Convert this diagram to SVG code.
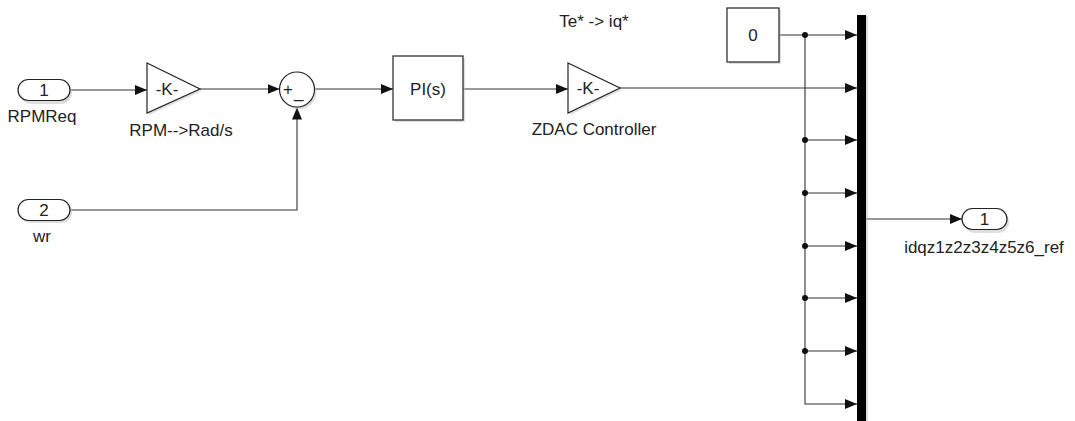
<svg xmlns="http://www.w3.org/2000/svg" width="1075" height="421" viewBox="0 0 1075 421">
<style>
  .blk { fill: #ffffff; stroke: #222; stroke-width: 1.2; }
  .shd { fill: #c8c8c8; stroke: none; opacity: 0.6; }
  .ln { fill: none; stroke: #333; stroke-width: 1.1; }
  .t { font-family: "Liberation Sans", Arial, sans-serif; font-size: 17px; fill: #222; }
  .dot { fill: #111; }
</style>
<defs>
  <marker id="arr" markerWidth="12" markerHeight="10" refX="12" refY="5" orient="auto" markerUnits="userSpaceOnUse">
    <path d="M0,0 L12,5 L0,10 z" fill="#111"/>
  </marker>
</defs>
<rect width="1075" height="421" fill="#ffffff"/>

<g id="connectors">
  <path class="ln" d="M70,90 H147" marker-end="url(#arr)"/>
  <path class="ln" d="M200,89 H279.5" marker-end="url(#arr)"/>
  <path class="ln" d="M70,210 H297 V107.5" marker-end="url(#arr)"/>
  <path class="ln" d="M314.5,89 H393" marker-end="url(#arr)"/>
  <path class="ln" d="M463,89 H568" marker-end="url(#arr)"/>
  <path class="ln" d="M620,88 H857" marker-end="url(#arr)"/>
  <path class="ln" d="M779,35 H857" marker-end="url(#arr)"/>
  <path class="ln" d="M805,35 V404 H857" marker-end="url(#arr)"/>
  <path class="ln" d="M805,140 H857" marker-end="url(#arr)"/>
  <path class="ln" d="M805,193 H857" marker-end="url(#arr)"/>
  <path class="ln" d="M805,246 H857" marker-end="url(#arr)"/>
  <path class="ln" d="M805,298 H857" marker-end="url(#arr)"/>
  <path class="ln" d="M805,351 H857" marker-end="url(#arr)"/>
  <path class="ln" d="M866,219 H962" marker-end="url(#arr)"/>
  <circle class="dot" cx="805" cy="35" r="3"/>
  <circle class="dot" cx="805" cy="140" r="3"/>
  <circle class="dot" cx="805" cy="193" r="3"/>
  <circle class="dot" cx="805" cy="246" r="3"/>
  <circle class="dot" cx="805" cy="298" r="3"/>
  <circle class="dot" cx="805" cy="351" r="3"/>
</g>

<g id="inport1">
  <rect class="shd" x="20" y="82" width="52" height="22" rx="11"/>
  <rect class="blk" x="18" y="79.5" width="52" height="21" rx="10.5"/>
  <text class="t" x="44" y="96" text-anchor="middle">1</text>
  <text class="t" x="42" y="122" text-anchor="middle">RPMReq</text>
</g>

<g id="gain1">
  <polygon class="shd" points="149,65 202,91 149,115"/>
  <polygon class="blk" points="147,63 200,89 147,113"/>
  <text class="t" x="167" y="95" text-anchor="middle">-K-</text>
  <text class="t" x="181" y="136" text-anchor="middle">RPM--&gt;Rad/s</text>
</g>

<g id="sum">
  <circle class="shd" cx="299" cy="92" r="17.5"/>
  <circle class="blk" cx="297" cy="89.5" r="17.5"/>
  <text class="t" x="283" y="95">+</text>
  <text class="t" x="294" y="98">_</text>
</g>

<g id="inport2">
  <rect class="shd" x="20" y="201" width="52" height="22" rx="11"/>
  <rect class="blk" x="18" y="199.5" width="52" height="21" rx="10.5"/>
  <text class="t" x="44" y="216" text-anchor="middle">2</text>
  <text class="t" x="42" y="242" text-anchor="middle">wr</text>
</g>

<g id="pi">
  <rect class="shd" x="395" y="58" width="70" height="64"/>
  <rect class="blk" x="393" y="56" width="70" height="64"/>
  <text class="t" x="428" y="95" text-anchor="middle">PI(s)</text>
</g>

<g id="gain2">
  <polygon class="shd" points="570,65 622,90 570,115"/>
  <polygon class="blk" points="568,63 620,88 568,113"/>
  <text class="t" x="588" y="94" text-anchor="middle">-K-</text>
  <text class="t" x="594" y="27" text-anchor="middle">Te* -&gt; iq*</text>
  <text class="t" x="594" y="135" text-anchor="middle">ZDAC Controller</text>
</g>

<g id="const0">
  <rect class="shd" x="729" y="10" width="52" height="54"/>
  <rect class="blk" x="727" y="8" width="52" height="54"/>
  <text class="t" x="753" y="41" text-anchor="middle">0</text>
</g>

<g id="mux">
  <rect x="859" y="16" width="9" height="405" fill="#bbbbbb" opacity="0.5"/>
  <rect x="857" y="15" width="9" height="406" fill="#000000"/>
</g>

<g id="outport1">
  <rect class="shd" x="964" y="211" width="45" height="22" rx="11"/>
  <rect class="blk" x="962" y="208.5" width="45" height="21" rx="10.5"/>
  <text class="t" x="984.5" y="225" text-anchor="middle">1</text>
  <text class="t" x="984" y="253" text-anchor="middle">idqz1z2z3z4z5z6_ref</text>
</g>
</svg>
